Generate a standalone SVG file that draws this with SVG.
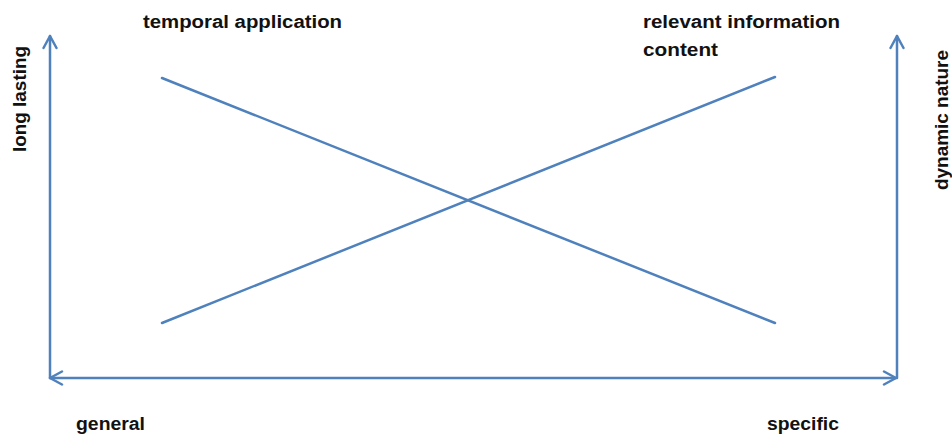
<svg xmlns="http://www.w3.org/2000/svg" width="952" height="435" viewBox="0 0 952 435">
  <style>
    .ln { stroke: #4F81BD; stroke-width: 2.5; fill: none; stroke-linecap: round; }
    .lbl { font-family: "Liberation Sans", Arial, sans-serif; font-size: 18px; fill: #111; font-weight: bold; }
  </style>
  <defs>
    <marker id="arr" viewBox="0 0 16 16" refX="14" refY="8" markerWidth="16" markerHeight="16" markerUnits="userSpaceOnUse" orient="auto-start-reverse">
      <path d="M2,1.5 L14,8 L2,14.5" fill="none" stroke="#4F81BD" stroke-width="2.5" stroke-linecap="round" stroke-linejoin="round"/>
    </marker>
  </defs>
  <rect width="952" height="435" fill="#fff"/>
  <g id="connectors">
    <line class="ln" x1="50" y1="378" x2="50" y2="36" marker-end="url(#arr)"/>
    <line class="ln" x1="50" y1="378" x2="896" y2="378" marker-start="url(#arr)" marker-end="url(#arr)"/>
    <line class="ln" x1="897" y1="378" x2="897" y2="36" marker-end="url(#arr)"/>
    <line class="ln" x1="162" y1="78" x2="775" y2="323"/>
    <line class="ln" x1="162" y1="323" x2="775" y2="77"/>
  </g>
  <g id="label-temporal">
    <text class="lbl" x="143" y="28" textLength="199" lengthAdjust="spacingAndGlyphs">temporal application</text>
  </g>
  <g id="label-relevant">
    <text class="lbl" x="643" y="28" textLength="197" lengthAdjust="spacingAndGlyphs">relevant information</text>
    <text class="lbl" x="643" y="56" textLength="75" lengthAdjust="spacingAndGlyphs">content</text>
  </g>
  <g id="label-long">
    <text class="lbl" transform="translate(26,152) rotate(-90)" x="0" y="0" textLength="106" lengthAdjust="spacingAndGlyphs">long lasting</text>
  </g>
  <g id="label-dynamic">
    <text class="lbl" transform="translate(948,190) rotate(-90)" x="0" y="0" textLength="140" lengthAdjust="spacingAndGlyphs">dynamic nature</text>
  </g>
  <g id="label-general">
    <text class="lbl" x="76" y="430" textLength="69" lengthAdjust="spacingAndGlyphs">general</text>
  </g>
  <g id="label-specific">
    <text class="lbl" x="767" y="430" textLength="72" lengthAdjust="spacingAndGlyphs">specific</text>
  </g>
</svg>
